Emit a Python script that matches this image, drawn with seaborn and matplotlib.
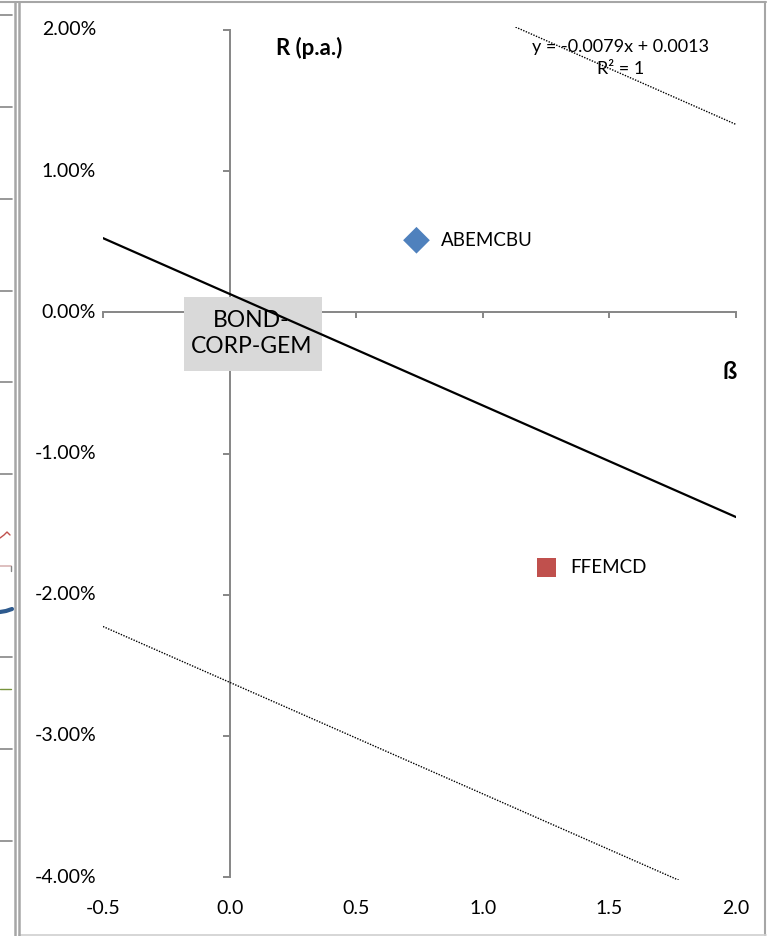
import matplotlib
matplotlib.use("Agg")
import matplotlib.pyplot as plt
from matplotlib.lines import Line2D
from matplotlib.patches import Rectangle
import matplotlib.transforms as mtransforms
import seaborn as sns
import pandas as pd

# ---------------- data ----------------
names = ["ABEMCBU", "FFEMCD"]
beta = [0.738, 1.251]
ret = [0.0051, -0.0181]
colors = ["#4F81BD", "#C0504D"]
marker_shapes = ["D", "s"]

fit_x = [-0.5, 2.0]
fit_y = [0.00525, -0.0145]          # y = -0.0079x + 0.0013
upper_y = [0.0331, 0.0133]           # upper dotted band
lower_y = [-0.02225, -0.04200]       # lower dotted band

x_ticks = [-0.5, 0.0, 0.5, 1.0, 1.5, 2.0]
x_tick_labels = ["-0.5", "0.0", "0.5", "1.0", "1.5", "2.0"]
y_ticks = [0.02, 0.01, 0.0, -0.01, -0.02, -0.03, -0.04]
y_tick_labels = ["2.00%", "1.00%", "0.00%", "-1.00%", "-2.00%", "-3.00%", "-4.00%"]

box_label = "BOND-\nCORP-GEM"
eq_text = "y = -0.0079x + 0.0013"
r2_text = "R² = 1"
y_title = "R (p.a.)"
x_title = "ß"

# ---------------- figure ----------------
sns.set_theme(style="white")
plt.rcParams["font.family"] = ["Lato", "DejaVu Sans"]

W, H = 769, 936
fig = plt.figure(figsize=(W / 100, H / 100), dpi=100)
fig.patch.set_facecolor("white")

def fx(x):
    return x / W

def fy(y):
    return 1 - y / H

ax_l, ax_r, ax_t, ax_b = 103, 736, 27, 880
ax = fig.add_axes([fx(ax_l), fy(ax_b), (ax_r - ax_l) / W, (ax_b - ax_t) / H])
ax.set_facecolor("none")
ax.set_xlim(-0.5, 2.0)
ax.set_ylim(-0.0402, 0.0202)

gray = "#868686"
for s in ["top", "right"]:
    ax.spines[s].set_visible(False)
ax.spines["left"].set_position(("data", 0))
ax.spines["bottom"].set_position(("data", 0))
ax.spines["left"].set_bounds(-0.04, 0.02)
ax.spines["bottom"].set_bounds(-0.5, 2.0)
for s in ["left", "bottom"]:
    ax.spines[s].set_color(gray)
    ax.spines[s].set_linewidth(1.4)
    ax.spines[s].set_zorder(1)

ax.set_xticks(x_ticks)
ax.set_yticks(y_ticks)
ax.tick_params(axis="both", direction="out", color=gray, width=1.4,
               labelleft=False, labelbottom=False)
ax.tick_params(axis="y", length=5, left=True)
ax.tick_params(axis="x", length=4.5, bottom=True)
ax.grid(False)

# tick labels at the outer edges
tr_y = mtransforms.blended_transform_factory(ax.transAxes, ax.transData)
for v, lab in zip(y_ticks, y_tick_labels):
    ax.text(-7 / (ax_r - ax_l), v, lab, transform=tr_y, ha="right", va="center",
            fontsize=14, color="black")
tr_x = mtransforms.blended_transform_factory(ax.transData, ax.transAxes)
for v, lab in zip(x_ticks, x_tick_labels):
    ax.text(v, -28 / (ax_b - ax_t), lab, transform=tr_x, ha="center", va="center",
            fontsize=14, color="black")

# lines
sns.lineplot(x=fit_x, y=fit_y, ax=ax, color="black", linewidth=1.6, zorder=4)
sns.lineplot(x=fit_x, y=upper_y, ax=ax, color="black", linewidth=1.0,
             linestyle=(0, (1, 1)), zorder=4)
sns.lineplot(x=fit_x, y=lower_y, ax=ax, color="black", linewidth=1.0,
             linestyle=(0, (1, 1)), zorder=4)

# points
df = pd.DataFrame({"beta": beta, "ret": ret, "name": names})
sns.scatterplot(data=df, x="beta", y="ret", hue="name", style="name",
                palette=dict(zip(names, colors)),
                markers=dict(zip(names, marker_shapes)),
                s=185, edgecolor="none", legend=False, ax=ax, zorder=5)
for xv, yv, nm in zip(beta, ret, names):
    ax.annotate(nm, (xv, yv), xytext=(17.5, 0), textcoords="offset points",
                ha="left", va="center", fontsize=13.5, color="black")

# box label
bx0, bx1 = -0.182, 0.363
by0, by1 = -0.00413, 0.00111
ax.add_patch(Rectangle((bx0, by0), bx1 - bx0, by1 - by0, facecolor="#D9D9D9",
                       edgecolor="none", zorder=3))
ax.text((bx0 + bx1) / 2 - 0.005, (by0 + by1) / 2, box_label, ha="center", va="center",
        fontsize=16.5, color="black", linespacing=1.3, zorder=3.2)

# titles and equation
ax.text(0.316, 0.01873, y_title, ha="center", va="center", fontsize=16,
        fontweight="bold", color="black")
ax.text(1.974, -0.0042, x_title, ha="center", va="center", fontsize=17,
        fontweight="bold", color="black")
ax.text(1.544, 0.0188, eq_text, ha="center", va="center", fontsize=13,
        color="black", zorder=6)
ax.text(1.544, 0.01725, r2_text, ha="center", va="center", fontsize=13,
        color="black", zorder=6)

# ---------------- frame decorations ----------------
frame = "#A6A6A6"
def fline(xs, ys, **kw):
    fig.add_artist(Line2D([fx(x) for x in xs], [fy(y) for y in ys],
                          transform=fig.transFigure, **kw))

fline([0, 766], [2, 2], color=frame, linewidth=1.5)
fline([765, 765], [2, 935], color=frame, linewidth=1.5)
fline([19, 766], [935, 935], color="#D0D0D0", linewidth=1.2)
fline([19, 19], [2, 936], color=frame, linewidth=1.8)
fline([15, 15], [2, 936], color=frame, linewidth=1.8)
# neighbouring chart fragments
for ty in [15, 107, 199, 291, 382, 474, 657, 749, 841]:
    fline([0, 12], [ty, ty], color=gray, linewidth=1.2)
fline([0, 11], [566, 566], color="#D8B4B4", linewidth=1.2)
fline([11, 11], [566, 571], color=gray, linewidth=1.0)
fline([0, 4, 7, 10], [538, 535, 532, 535], color="#C0504D", linewidth=1.0)
fline([0, 6, 12], [612, 611, 609], color="#2E5A8E", linewidth=3)
fline([0, 11], [689, 689], color="#77933C", linewidth=1.0)

fig.savefig("out.png", dpi=100, facecolor="white")
